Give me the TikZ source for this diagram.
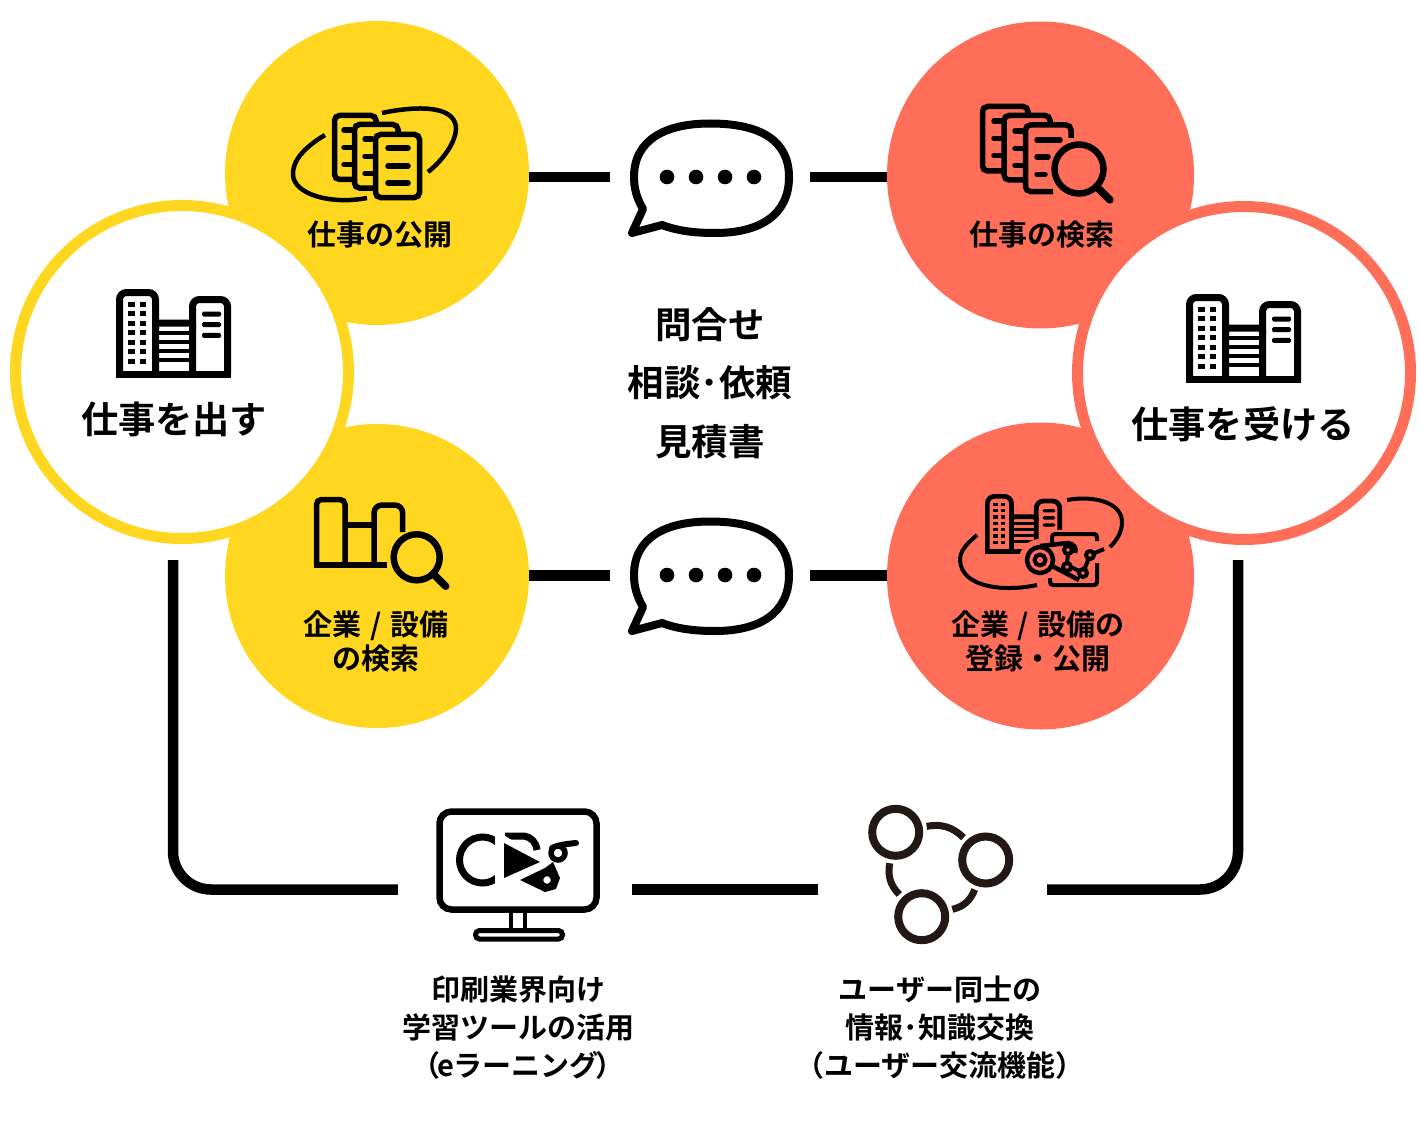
\documentclass[tikz,border=0pt]{standalone}
\usepackage{fontspec}
\setmainfont{Noto Sans CJK JP}[BoldFont=* Bold]
\usetikzlibrary{positioning}
\definecolor{giveyellow}{RGB}{255,215,32}
\definecolor{takered}{RGB}{255,110,89}
\definecolor{netblack}{RGB}{35,24,21}
\tikzset{
  roundfill/.style={circle,inner sep=0pt,minimum size=#1},
  plate/.style={circle,draw,fill=white,line width=11pt,inner sep=0pt,minimum size=333pt},
  link/.style={line width=10.5pt},
  gapbox/.style={inner sep=0pt,minimum height=20pt,minimum width=#1},
  small/.style={font=\bfseries\fontsize{29}{38}\selectfont,align=center,inner sep=0pt},
  tight/.style={font=\bfseries\fontsize{29}{34}\selectfont,align=center,inner sep=0pt},
  big/.style={font=\bfseries\fontsize{36.5}{58.5}\selectfont,align=center,inner sep=0pt},
  bigger/.style={font=\bfseries\fontsize{37.2}{58.5}\selectfont,align=center,inner sep=0pt},
  netring/.style={circle,draw=netblack,line width=8pt,inner sep=0pt,minimum size=47pt,outer sep=8pt},
  netarc/.style={netblack,line width=7pt},
  pics/bubble/.style={code={
    \draw[line width=8pt,line join=round] (-67,32) .. controls (-74,20) and (-76,10) .. (-76,0)
      .. controls (-76,-37) and (-45,-53.5) .. (0,-53.5) .. controls (50,-53.5) and (79,-37) .. (79,0)
      .. controls (79,38) and (50,56) .. (5,56) .. controls (-15,56) and (-32,54) .. (-48,48) -- (-78,56) -- cycle;
    \foreach \x in {-43,-14,15,44} \fill (\x,0) circle (7.3);
  }},
  pics/lens/.style={code={
    \draw[line width=6.5pt] (0,0) circle (#1);
    \draw[line width=7.5pt,line cap=round] (0.72*#1,0.72*#1) -- (1.26*#1,1.26*#1);
  }},
  pics/tower/.style={code={
    \draw[line width=#1pt,rounded corners=7pt] (3.5,85.5) -- (3.5,3.5) -- (39.5,3.5) -- (39.5,85.5);
    \draw[line width=#1pt,rounded corners=7pt] (76.5,85.5) -- (76.5,10.5) -- (111.5,10.5) -- (111.5,85.5);
    \draw[line width=#1pt] (0,85.5) -- (115,85.5);
    \draw[line width=#1pt,rounded corners=3pt] (39.5,40) -- (39.5,34) -- (76.5,34) -- (76.5,40);
    \foreach \y in {44,53,62,71} \fill (39.5,\y-2.4) rectangle (76.5,\y+2.4);
    \foreach \i in {0,...,6} {
      \fill (12.3,13+9.43*\i) rectangle ++(6.7,5);
      \fill (23.7,13+9.43*\i) rectangle ++(6.7,5);
    }
    \foreach \y in {25,35.7,46.3} \fill[rounded corners=1.5pt] (86,\y-2.5) rectangle (105,\y+2.5);
  }},
  pics/ticks/.style={code={
    \foreach \y in {0,17.3,34.6} \draw[line width=5.5pt,line cap=round] (0,\y) -- (7,\y);
  }}
}
\begin{document}
\begin{tikzpicture}[x=1pt,y=-1pt]
\useasboundingbox (0,0) rectangle (1420,1126);

\node[roundfill=304pt,fill=giveyellow] (publish) at (377,173) {};
\node[roundfill=304pt,fill=giveyellow] (findco) at (377,576) {};
\node[roundfill=307pt,fill=takered] (findjob) at (1040.5,175) {};
\node[roundfill=307pt,fill=takered] (register) at (1040.5,576) {};
\node[plate,draw=giveyellow] (give) at (182,372) {};
\node[plate,draw=takered] (take) at (1244,373) {};

\node[gapbox=200pt] (askup) at (710,177) {};
\node[gapbox=200pt] (asklow) at (710,575.5) {};
\node[gapbox=234pt] (screen) at (515,889.5) {};
\node[gapbox=229pt] (network) at (932.5,889.5) {};
\coordinate (giveend) at (173,560);
\coordinate (takeend) at (1238,560);

\pic at (askup) {bubble};
\pic at (710,575) {bubble};

\draw[link] (publish.east |- askup.west) -- (askup.west);
\draw[link] (askup.east) -- (findjob.west |- askup.east);
\draw[link] (findco.east |- asklow.west) -- (asklow.west);
\draw[link] (asklow.east) -- (register.west |- asklow.east);
\draw[link,rounded corners=38pt] (giveend) |- (screen.west);
\draw[link] (screen.east) -- (network.west);
\draw[link,rounded corners=38pt] (network.east) -| (takeend);

\pic at (116,289) {tower=7};
\pic at (1186,294) {tower=7};

\node[small] (publishtext) at (380,235) {仕事の公開};
\node[small] (findjobtext) at (1042,235) {仕事の検索};
\node[tight] (findcotext) at (376,641) {企業\kern2pt{} /\kern2pt{} 設備\\の検索};
\node[tight] (registertext) at (1038,641) {企業\kern2pt{} /\kern2pt{} 設備の\\登録・公開};
\node[bigger] (givetext) at (174,419) {仕事を出す};
\node[bigger] (taketext) at (1243,424) {仕事を受ける};
\node[big] (asktext) at (710,383) {問合せ\\相談･依頼\\見積書};
\node[small] (learntext) at (518,1028) {印刷業界向け\\学習ツールの活用\\\kern-4pt（\kern-3pt{}eラーニング\kern-3pt）\kern-4pt};
\node[small] (sharetext) at (940,1028) {ユーザー同士の\\情報･知識交換\\\kern-3.5pt（ユーザー交流機能）\kern-3.5pt};

\draw[line width=4.5pt] (325,135) .. controls (303,148) and (292,162) .. (293,175) .. controls (294,194) and (330,205) .. (367,198);
\draw[line width=4.5pt] (382,113) .. controls (410,107) and (455,103) .. (456,128) .. controls (456,142) and (443,160) .. (428,172);
\draw[line width=5.5pt,rounded corners=5pt] (376,124) -- (376,115.5) -- (334.5,115.5) -- (334.5,179.5) -- (352,179.5);
\draw[line width=5.5pt,rounded corners=5pt] (398,132) -- (398,124.5) -- (354.5,124.5) -- (354.5,188) -- (373,188);
\draw[line width=5.5pt,rounded corners=5pt] (375.5,134.5) rectangle (419.5,197.5);
\pic at (344,130) {ticks};
\pic at (365,139) {ticks};
\draw[line width=5.5pt,line cap=round] (388,148) -- (408,148);
\draw[line width=5.5pt,line cap=round] (388,166) -- (408,166);
\draw[line width=5.5pt,line cap=round] (388,183) -- (408,183);

\draw[line width=5.5pt,rounded corners=5pt] (1028,114) -- (1028,106.5) -- (982.5,106.5) -- (982.5,171) -- (1002,171);
\draw[line width=5.5pt,rounded corners=5pt] (1050,123) -- (1050,115.5) -- (1004,115.5) -- (1004,180) -- (1024,180);
\draw[line width=5.5pt,rounded corners=5pt] (1071,138) -- (1071,125) -- (1025.5,125) -- (1025.5,191.5) -- (1053,191.5);
\pic at (994,121) {ticks};
\pic at (1015,131) {ticks};
\draw[line width=5.5pt,line cap=round] (1037,140) -- (1060,140);
\draw[line width=5.5pt,line cap=round] (1037,157) -- (1048,157);
\draw[line width=5.5pt,line cap=round] (1037,174.5) -- (1045,174.5);
\pic at (1079,169) {lens=24.5};

\draw[line width=5.5pt,rounded corners=5pt] (316.5,565) -- (316.5,499.5) -- (345,499.5) -- (345,565);
\draw[line width=5.5pt] (345,525) -- (374,525);
\draw[line width=5.5pt,rounded corners=8pt] (374,565) -- (374,505) -- (402.7,505) -- (402.7,532);
\draw[line width=5.5pt] (314,565) -- (387,565);
\pic at (416.7,557.3) {lens=23};

\draw[line width=4pt] (977,535) .. controls (965,545) and (960,552) .. (960,560) .. controls (961,588) and (1005,592) .. (1037,585);
\draw[line width=4pt] (1067,500) .. controls (1095,495) and (1122,503) .. (1122,522) .. controls (1122,532) and (1117,540) .. (1110,547);
\pic[scale=.67] at (985,494) {tower=4.7};
\fill[takered] (1040,560) circle (21);
\fill[takered] (1045,530) rectangle (1105,596);
\draw[line width=4pt,rounded corners=3pt] (1052,543) -- (1052,534) -- (1097,534) -- (1097,541);
\draw[line width=4pt,rounded corners=3pt] (1050,578) -- (1050,585) -- (1097,585) -- (1097,563);
\draw[line width=4.5pt] (1040,560) circle (13);
\draw[line width=4pt] (1040,560) circle (5.5);
\draw[line width=4.5pt] (1040,546) -- (1068,543) .. controls (1074,544) and (1077,548) .. (1075,553);
\draw[line width=4.5pt] (1052,566) -- (1079,580);
\draw[line width=4pt] (1068,552) -- (1067,565) -- (1083,573) -- (1090,555) -- (1104,549);
\foreach \x/\y in {1068/550,1067/567,1083/573,1090/555}
  \draw[line width=4pt,fill=takered] (\x,\y) circle (4);

\draw[line width=6.5pt,rounded corners=12pt] (439.5,811.5) rectangle (596.5,909.5);
\draw[line width=4.5pt] (511,913) -- (511,930);
\draw[line width=4.5pt] (525,913) -- (525,930);
\draw[line width=5pt,rounded corners=4pt] (475.5,930.5) rectangle (562.5,939);
\draw[line width=7pt] (482.5,860) circle (23);
\draw[line width=7pt] (505,836) -- (524,836) .. controls (531,837) and (536,842) .. (537,850);
\fill (520,880) -- (545,868) -- (553,862) -- (560,878) -- (556,889) -- (545,892) -- cycle;
\fill[white] (495,830) -- (548,862) -- (495,892) -- cycle;
\fill[line join=round] (504,843) -- (540,862) -- (504,878) -- cycle;
\draw[line width=6pt,line cap=round] (552,848) .. controls (558,845) and (566,844) .. (576,843);
\draw[line width=5.5pt,fill=white] (558,853) circle (7);
\draw[line width=5.5pt,fill=white] (547,880) circle (6.5);

\node[netring] (peerA) at (895.7,832.3) {};
\node[netring] (peerB) at (985.7,860) {};
\node[netring] (peerC) at (921.7,916.7) {};
\draw[netarc] (peerA) to[bend left=28] (peerB);
\draw[netarc] (peerB) to[bend left=28] (peerC);
\draw[netarc] (peerC) to[bend left=28] (peerA);
\end{tikzpicture}
\end{document}
